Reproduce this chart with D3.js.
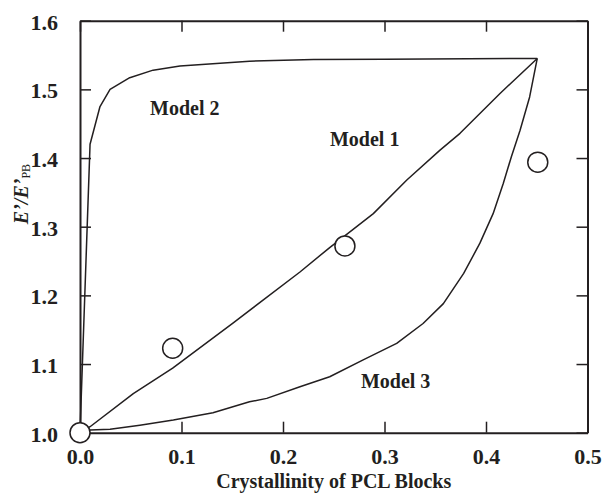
<!DOCTYPE html>
<html>
<head>
<meta charset="utf-8">
<script src="https://cdn.jsdelivr.net/npm/d3@7"></script>
<style>
  body { margin: 0; background: #fff; }
  text { font-family: "Liberation Serif", "Times New Roman", serif; font-weight: bold; fill: #231f20; }
</style>
</head>
<body>
<svg id="vis"></svg>
<script>
// chart values
const model1X = [0, 0.0099, 0.0525, 0.0913, 0.151, 0.2167, 0.2463, 0.289, 0.322, 0.3547, 0.3744, 0.4138, 0.4505]
const model1Y = [1.0, 1.0087, 1.057, 1.094, 1.160, 1.234, 1.270, 1.319, 1.368, 1.4115, 1.436, 1.494, 1.545]

const model2X = [0, 0.0099, 0.0197, 0.0296, 0.049, 0.072, 0.0985, 0.138, 0.167, 0.23, 0.3, 0.4505]
const model2Y = [1.0, 1.42, 1.475, 1.5, 1.517, 1.528, 1.534, 1.538, 1.541, 1.5435, 1.544, 1.545]

const model3X = [0, 0.0099, 0.0296, 0.059, 0.092, 0.131, 0.167, 0.184, 0.2167, 0.246, 0.279, 0.312, 0.338, 0.358, 0.378, 0.394, 0.407, 0.417, 0.425, 0.4335, 0.443, 0.4505]
const model3Y = [1.0, 1.004, 1.005, 1.011, 1.0185, 1.029, 1.045, 1.05, 1.067, 1.0815, 1.106, 1.130, 1.159, 1.188, 1.232, 1.276, 1.319, 1.363, 1.402, 1.440, 1.489, 1.545]

const expX = [0, 0.0913, 0.261, 0.451]
const expY = [1.0, 1.123, 1.272, 1.394]

const modelNames = ['Model 1', 'Model 2', 'Model 3']
const labelX = [0.2463, 0.069, 0.2768]
const labelY = [1.417, 1.4625, 1.065]

const xTicks = [0, 0.1, 0.2, 0.3, 0.4, 0.5]
const yTicks = [1.0, 1.1, 1.2, 1.3, 1.4, 1.5, 1.6]

// layout
const W = 605, H = 497
const LEFT = 80, RIGHT = 587.5, TOP = 20.7, BOTTOM = 432.7
const INK = '#231f20'

const svg = d3.select('#vis')
    .attr('width', W)
    .attr('height', H)

const x = d3.scaleLinear().domain([0, 0.5]).range([LEFT, RIGHT])
const y = d3.scaleLinear().domain([1.0, 1.6]).range([BOTTOM, TOP])

// axes on all four sides, ticks pointing inward
function styleAxis(g) {
    g.selectAll('path').attr('stroke', INK).attr('stroke-width', 2)
    g.selectAll('line').attr('stroke', INK).attr('stroke-width', 1.5)
    g.selectAll('text').attr('fill', INK)
}

svg.append('g')
    .attr('transform', `translate(0,${BOTTOM})`)
    .call(d3.axisBottom(x).tickValues(xTicks).tickFormat(d3.format('.1f'))
        .tickSizeInner(-11).tickSizeOuter(0).tickPadding(16))
    .call(styleAxis)
    .call(g => g.selectAll('text').attr('font-size', 22).attr('dy', '0.71em'))

svg.append('g')
    .attr('transform', `translate(0,${TOP})`)
    .call(d3.axisTop(x).tickValues(xTicks).tickFormat('')
        .tickSizeInner(-11).tickSizeOuter(0))
    .call(styleAxis)

svg.append('g')
    .attr('transform', `translate(${LEFT},0)`)
    .call(d3.axisLeft(y).tickValues(yTicks).tickFormat(d3.format('.1f'))
        .tickSizeInner(-11).tickSizeOuter(0).tickPadding(22))
    .call(styleAxis)
    .call(g => g.selectAll('text').attr('font-size', 22).attr('dy', '0.38em'))

svg.append('g')
    .attr('transform', `translate(${RIGHT},0)`)
    .call(d3.axisRight(y).tickValues(yTicks).tickFormat('')
        .tickSizeInner(-11).tickSizeOuter(0))
    .call(styleAxis)

// the font family is set by the axis group, override it
svg.selectAll('.tick text').attr('font-family', '"Liberation Serif", serif').attr('font-weight', 'bold')

// model curves, plain polylines like the original
const line = d3.line()
    .x(d => x(d[0]))
    .y(d => y(d[1]))

const curves = [d3.zip(model1X, model1Y), d3.zip(model2X, model2Y), d3.zip(model3X, model3Y)]

svg.selectAll('path.model')
    .data(curves)
    .join('path')
    .attr('class', 'model')
    .attr('d', line)
    .attr('fill', 'none')
    .attr('stroke', INK)
    .attr('stroke-width', 1.5)
    .attr('stroke-linejoin', 'round')

// model labels
svg.selectAll('text.label')
    .data(modelNames)
    .join('text')
    .attr('class', 'label')
    .attr('x', (d, i) => x(labelX[i]))
    .attr('y', (d, i) => y(labelY[i]))
    .attr('font-size', 20)
    .text(d => d)

// measured points, open circles
svg.selectAll('circle')
    .data(d3.zip(expX, expY))
    .join('circle')
    .attr('cx', d => x(d[0]))
    .attr('cy', d => y(d[1]))
    .attr('r', 10)
    .attr('fill', 'white')
    .attr('stroke', INK)
    .attr('stroke-width', 1.5)

// axis titles
svg.append('text')
    .attr('x', (LEFT + RIGHT) / 2)
    .attr('y', 488)
    .attr('text-anchor', 'middle')
    .attr('font-size', 20)
    .text('Crystallinity of PCL Blocks')

const yTitle = svg.append('text')
    .attr('transform', `translate(28,194) rotate(-90)`)
    .attr('text-anchor', 'middle')
    .attr('font-size', 20)

yTitle.append('tspan')
    .attr('font-style', 'italic')
    .text('E’/E’')

yTitle.append('tspan')
    .attr('font-size', 12)
    .attr('font-weight', 'normal')
    .attr('dy', 2)
    .text('PB')
</script>
</body>
</html>
